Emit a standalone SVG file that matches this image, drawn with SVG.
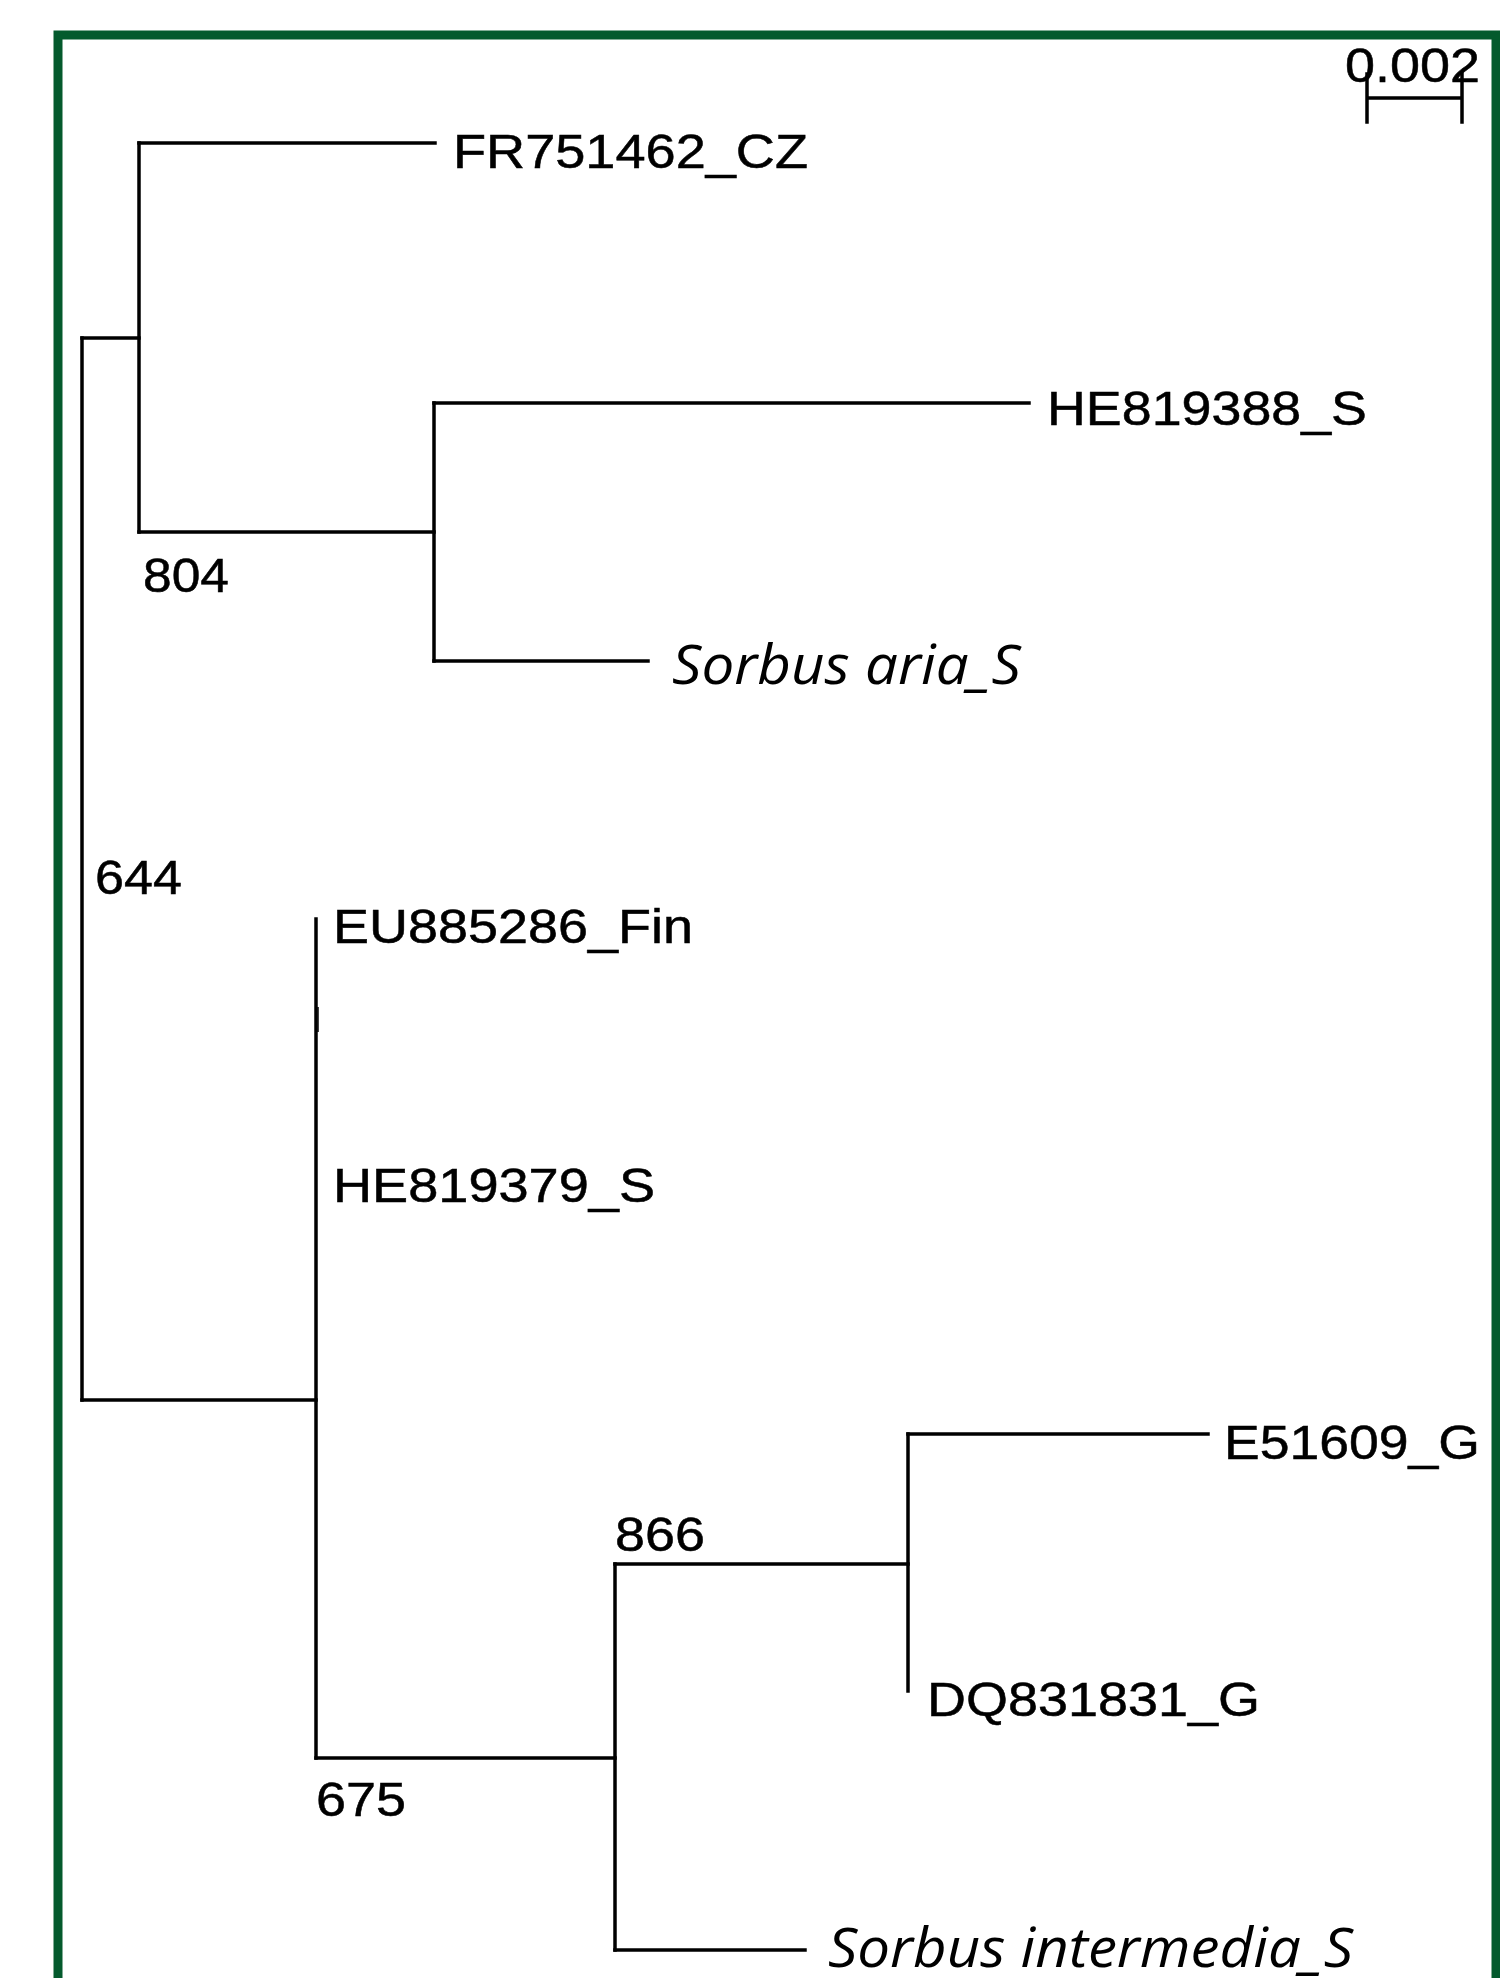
<svg xmlns="http://www.w3.org/2000/svg" width="1500" height="1978" viewBox="0 0 1500 1978">
<style>
.br{stroke:#000;stroke-width:3.5;fill:none;stroke-linecap:square}
.lb{font-family:"Liberation Sans",Arial,sans-serif;font-size:48px;fill:#000;stroke:#000;stroke-width:0.5}
.it{font-family:"Open Sans","Noto Sans",sans-serif;font-style:italic;font-size:54px;fill:#000}
</style>
<rect x="0" y="0" width="1500" height="1978" fill="#fff"/>
<rect id="frame" x="58" y="35" width="1438" height="2100" fill="none" stroke="#045a2d" stroke-width="9"/>
<g id="connectors">
<path class="br" d="M82 338 V1400"/>
<path class="br" d="M82 338 H139"/>
<path class="br" d="M139 143 V532"/>
<path class="br" d="M139 143 H435"/>
<path class="br" d="M139 532 H434"/>
<path class="br" d="M434 403 V661"/>
<path class="br" d="M434 403 H1029"/>
<path class="br" d="M434 661 H648"/>
<path class="br" d="M82 1400 H316"/>
<path class="br" d="M316 919 V1758"/>
<line x1="318" y1="1007" x2="318" y2="1032" stroke="#000" stroke-width="1.5"/>
<path class="br" d="M316 1758 H615"/>
<path class="br" d="M615 1564 V1950"/>
<path class="br" d="M615 1564 H908"/>
<path class="br" d="M615 1950 H805"/>
<path class="br" d="M908 1434 V1691"/>
<path class="br" d="M908 1434 H1208"/>
</g>
<g id="scalebar">
<path class="br" d="M1367 74 V122 M1462 74 V122 M1367 98 H1462"/>
<text class="lb" x="1345" y="82" font-size="42" textLength="135" lengthAdjust="spacingAndGlyphs">0.002</text>
</g>
<g id="node-FR751462"><text class="lb" x="453" y="167.5" textLength="355" lengthAdjust="spacingAndGlyphs">FR751462_CZ</text></g>
<g id="node-HE819388"><text class="lb" x="1047" y="425" textLength="320" lengthAdjust="spacingAndGlyphs">HE819388_S</text></g>
<g id="node-Saria"><text class="it" x="672" y="683.5" textLength="349" lengthAdjust="spacingAndGlyphs">Sorbus aria_S</text></g>
<g id="node-804"><text class="lb" x="143" y="591.5" textLength="86" lengthAdjust="spacingAndGlyphs">804</text></g>
<g id="node-644"><text class="lb" x="95" y="893.5" textLength="87" lengthAdjust="spacingAndGlyphs">644</text></g>
<g id="node-EU885286"><text class="lb" x="333" y="942.5" textLength="360" lengthAdjust="spacingAndGlyphs">EU885286_Fin</text></g>
<g id="node-HE819379"><text class="lb" x="333" y="1201.5" textLength="322" lengthAdjust="spacingAndGlyphs">HE819379_S</text></g>
<g id="node-866"><text class="lb" x="615" y="1550.5" textLength="90" lengthAdjust="spacingAndGlyphs">866</text></g>
<g id="node-E51609"><text class="lb" x="1224" y="1458.5" textLength="256" lengthAdjust="spacingAndGlyphs">E51609_G</text></g>
<g id="node-DQ831831"><text class="lb" x="927" y="1716" textLength="333" lengthAdjust="spacingAndGlyphs">DQ831831_G</text></g>
<g id="node-675"><text class="lb" x="316" y="1816" textLength="90" lengthAdjust="spacingAndGlyphs">675</text></g>
<g id="node-Sintermedia"><text class="it" x="828" y="1966.5" textLength="525" lengthAdjust="spacingAndGlyphs">Sorbus intermedia_S</text></g>
</svg>
